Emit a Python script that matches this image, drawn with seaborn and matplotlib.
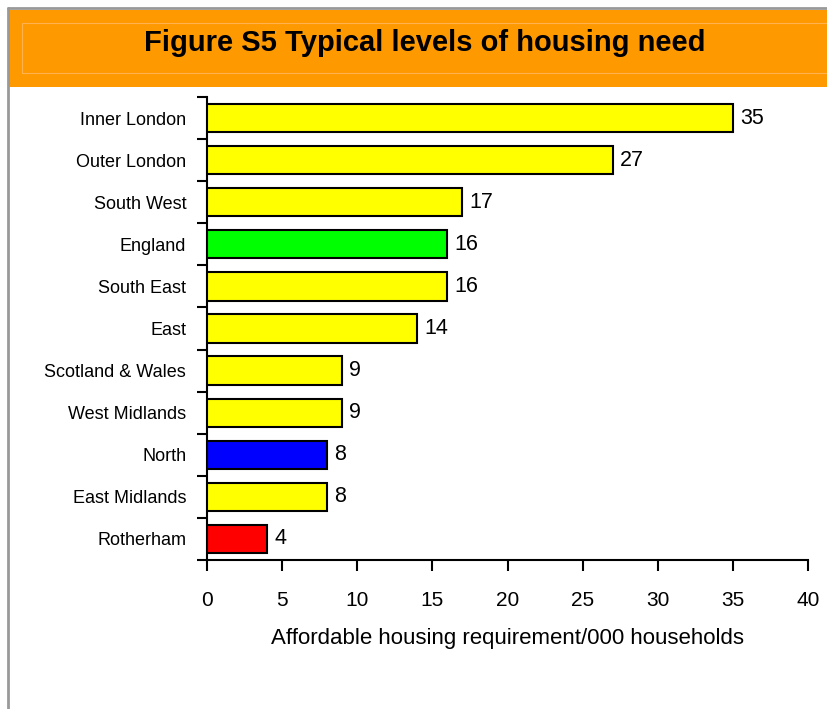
import matplotlib
matplotlib.use("Agg")
import matplotlib.pyplot as plt
import seaborn as sns
import pandas as pd
import numpy as np
from matplotlib.patches import Rectangle
from matplotlib.lines import Line2D

regions = ['Inner London', 'Outer London', 'South West', 'England', 'South East', 'East',
           'Scotland & Wales', 'West Midlands', 'North', 'East Midlands', 'Rotherham']
need = [35, 27, 17, 16, 16, 14, 9, 9, 8, 8, 4]
bar_colours = ['#FFFF00', '#FFFF00', '#FFFF00', '#00FF00', '#FFFF00', '#FFFF00',
               '#FFFF00', '#FFFF00', '#0000FF', '#FFFF00', '#FF0000']
x_ticks = [0, 5, 10, 15, 20, 25, 30, 35, 40]

df = pd.DataFrame({'region': regions, 'need': need})

sns.set_style('white')
plt.rcParams['font.family'] = ['Liberation Sans', 'DejaVu Sans']
plt.rcParams['text.color'] = 'black'
plt.rcParams['axes.labelcolor'] = 'black'
plt.rcParams['xtick.color'] = 'black'
plt.rcParams['ytick.color'] = 'black'

W, H = 828, 709
fig = plt.figure(figsize=(W / 100, H / 100), dpi=100)
fig.patch.set_facecolor('white')

# title banner and frame
fig.patches.append(Rectangle((9 / W, 1 - 87 / H), 1, 77 / H, transform=fig.transFigure,
                             facecolor='#FF9900', edgecolor='none', zorder=0))
fig.patches.append(Rectangle((22 / W, 1 - 73 / H), 1, 50 / H, transform=fig.transFigure,
                             facecolor='none', edgecolor='#FFB24D', lw=0.8, zorder=1))
fig.lines.append(Line2D([8 / W, 1], [1 - 8 / H, 1 - 8 / H], transform=fig.transFigure,
                        color='#999999', lw=2))
fig.lines.append(Line2D([8 / W, 8 / W], [0, 1 - 8 / H], transform=fig.transFigure,
                        color='#999999', lw=2))
fig.text(425 / W, 1 - 43 / H, 'Figure S5 Typical levels of housing need', ha='center', va='center',
         fontsize=21, fontweight='bold', color='black')

ax = fig.add_axes([207 / W, 1 - 560 / H, (808 - 207) / W, (560 - 97) / H])
sns.barplot(data=df, x='need', y='region', hue='region', palette=bar_colours, legend=False,
            width=0.67, saturation=1, edgecolor='black', linewidth=1.5, ax=ax, zorder=3)

ax.set_xlim(0, 40)
ax.set_ylim(len(regions) - 0.5, -0.5)
ax.set_xticks(x_ticks)
ax.set_xticklabels([str(t) for t in x_ticks])

# category names sit on minor ticks, boundary ticks are the major ones
ax.set_yticks(np.arange(len(regions) + 1) - 0.5)
ax.set_yticklabels([])
ax.set_yticks(np.arange(len(regions)), minor=True)
ax.set_yticklabels(regions, minor=True)
ax.tick_params(axis='y', which='minor', length=0, pad=15, labelsize=13)
ax.tick_params(axis='y', which='major', length=7, width=1.5, direction='out', left=True)
ax.tick_params(axis='x', length=8, width=1.5, direction='out', bottom=True, pad=14, labelsize=15)

ax.set_xlabel('Affordable housing requirement/000 households', fontsize=16, labelpad=13)
ax.set_ylabel('')
for side in ['top', 'right']:
    ax.spines[side].set_visible(False)
for side in ['left', 'bottom']:
    ax.spines[side].set_color('black')
    ax.spines[side].set_linewidth(1.5)
ax.set_facecolor('white')

for container in ax.containers:
    ax.bar_label(container, fmt='%d', padding=5, fontsize=15.5)

fig.savefig('out.png', dpi=100)
